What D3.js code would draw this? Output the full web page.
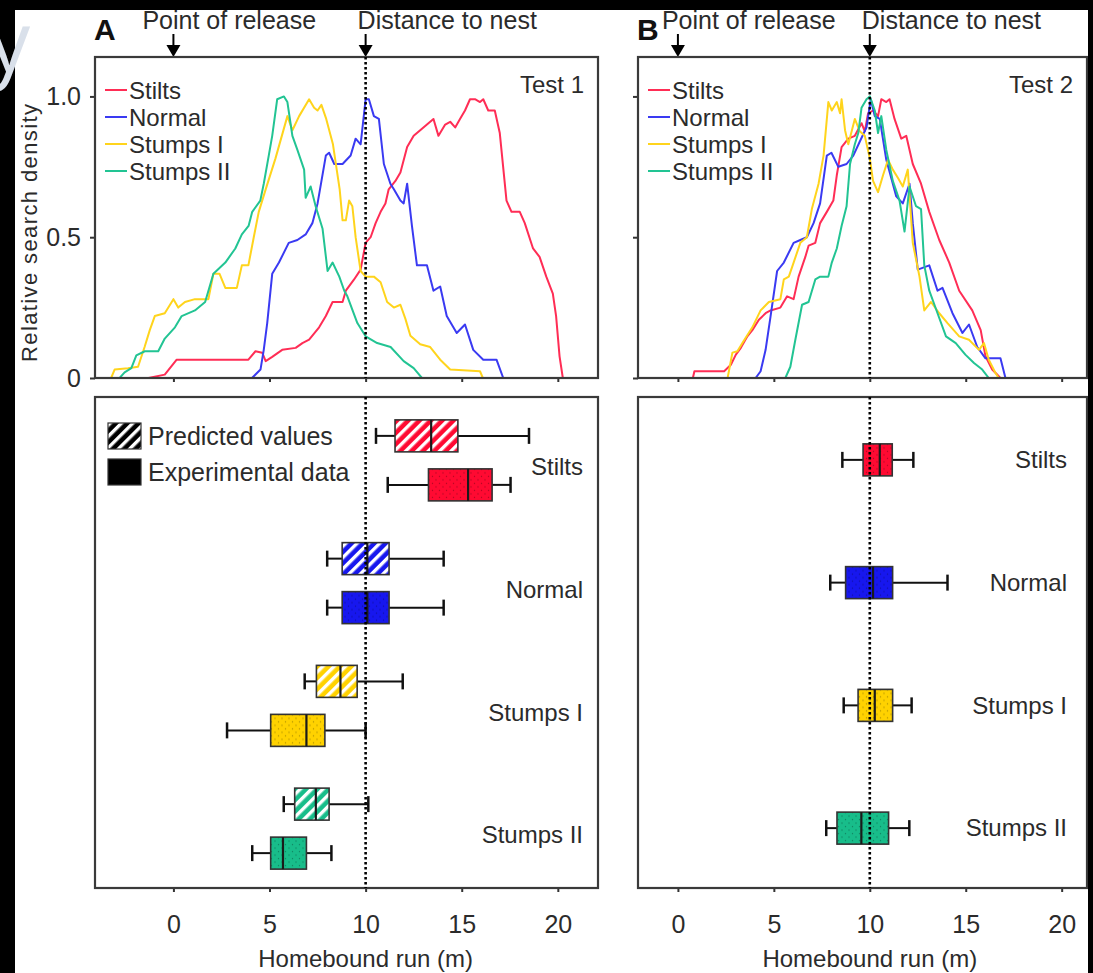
<!DOCTYPE html>
<html>
<head>
<meta charset="utf-8">
<script src="https://cdn.jsdelivr.net/npm/d3@7"></script>
<style>
  body { margin: 0; background: #fff; }
  svg { display: block; font-family: "Liberation Sans", Arial, sans-serif; }
</style>
</head>
<body>
<div id="chart"></div>
<script>
// ---- data ----
const categories = ["Stilts", "Normal", "Stumps I", "Stumps II"];
const xTicks = [0, 5, 10, 15, 20];
const yTicks = [0, 0.5, 1];

// relative search density, [homebound run (m), density]
const t1Stilts = [[-1.3,0],[-0.45,0.012],[0.17,0.065],[3.9,0.065],[4.27,0.095],[4.62,0.09],[4.8,0.06],[5.14,0.075],[5.66,0.1],[6.36,0.107],[6.71,0.124],[7.06,0.136],[7.58,0.18],[7.93,0.22],[8.28,0.27],[8.8,0.27],[8.97,0.31],[9.4,0.35],[9.74,0.385],[10,0.48],[10.26,0.5],[10.52,0.55],[10.78,0.59],[11.03,0.62],[11.2,0.67],[11.55,0.7],[11.81,0.73],[12.16,0.82],[12.5,0.86],[12.84,0.88],[13.19,0.9],[13.53,0.92],[13.79,0.86],[14.14,0.9],[14.4,0.91],[14.66,0.89],[14.91,0.92],[15.17,0.95],[15.43,0.99],[15.69,0.99],[15.95,0.98],[16.12,0.99],[16.38,0.95],[16.72,0.95],[16.98,0.87],[17.33,0.63],[17.59,0.59],[18.02,0.59],[18.28,0.55],[18.71,0.46],[19.05,0.43],[19.4,0.36],[19.74,0.3],[19.91,0.22],[20.09,0.077],[20.26,0]];
const t1Normal = [[4.09,0],[4.53,0.03],[4.7,0.1],[4.88,0.195],[5.14,0.37],[5.49,0.41],[6.0,0.48],[6.45,0.49],[6.88,0.51],[7.23,0.55],[7.5,0.62],[7.93,0.79],[8.1,0.8],[8.37,0.76],[8.8,0.76],[9.22,0.79],[9.48,0.85],[9.74,0.83],[10,0.99],[10.17,0.99],[10.43,0.93],[10.69,0.92],[10.95,0.76],[11.29,0.69],[11.47,0.67],[11.81,0.63],[11.98,0.62],[12.16,0.69],[12.41,0.54],[12.67,0.4],[13.19,0.4],[13.53,0.31],[13.88,0.325],[14.22,0.22],[14.74,0.16],[15.17,0.19],[15.6,0.1],[16.12,0.065],[16.81,0.065],[17.16,0]];
const t1StumpsI = [[-3.24,0],[-3.06,0.03],[-2.36,0.035],[-1.84,0.04],[-1.5,0.11],[-1.23,0.17],[-0.97,0.22],[-0.45,0.23],[0,0.28],[0.25,0.25],[0.6,0.27],[1.12,0.28],[1.82,0.28],[2.08,0.37],[2.4,0.37],[2.7,0.32],[3.3,0.32],[3.56,0.4],[3.9,0.4],[4.18,0.5],[4.44,0.59],[4.8,0.67],[5.31,0.78],[5.93,0.93],[6.19,0.88],[6.54,0.93],[7.06,0.99],[7.32,0.96],[7.5,0.95],[7.7,0.97],[7.95,0.92],[8.3,0.83],[8.65,0.67],[8.8,0.56],[8.97,0.56],[9.14,0.63],[9.31,0.61],[9.48,0.5],[9.74,0.38],[10,0.36],[10.43,0.36],[10.78,0.34],[11.12,0.27],[11.47,0.25],[11.81,0.26],[12.07,0.21],[12.33,0.15],[12.84,0.12],[13.36,0.11],[13.88,0.065],[14.4,0.03],[15.95,0.024],[16.1,0]];
const t1StumpsII = [[-2.8,0],[-2.54,0.02],[-2.19,0.035],[-1.93,0.08],[-1.49,0.095],[-0.79,0.095],[-0.45,0.14],[0.08,0.18],[0.43,0.22],[1.12,0.24],[1.65,0.27],[2.08,0.37],[2.7,0.41],[3.22,0.46],[3.56,0.51],[3.91,0.54],[4.1,0.59],[4.52,0.63],[4.7,0.69],[4.96,0.79],[5.14,0.86],[5.4,0.99],[5.75,1.0],[5.93,0.98],[6.19,0.86],[6.45,0.81],[6.8,0.74],[6.88,0.64],[7.14,0.68],[7.4,0.61],[7.76,0.53],[8.02,0.38],[8.28,0.41],[8.63,0.36],[8.89,0.31],[9.05,0.29],[9.57,0.195],[10,0.148],[10.6,0.124],[11.3,0.11],[11.98,0.06],[12.5,0.035],[12.93,0]];

const t2Stilts = [[0.78,0],[0.86,0.024],[2.41,0.024],[2.76,0.047],[3.02,0.083],[3.28,0.107],[3.62,0.148],[3.88,0.17],[4.22,0.207],[4.57,0.23],[4.83,0.24],[5.34,0.25],[5.69,0.29],[6.03,0.28],[6.29,0.36],[6.64,0.43],[6.81,0.47],[7.16,0.48],[7.41,0.55],[7.76,0.59],[8.1,0.63],[8.28,0.72],[8.53,0.82],[8.88,0.85],[9.22,0.86],[9.57,0.905],[9.74,0.876],[9.91,0.94],[10.17,0.95],[10.43,0.93],[10.6,0.99],[10.86,0.98],[11.03,0.99],[11.29,0.92],[11.64,0.85],[11.9,0.86],[12.24,0.76],[12.67,0.69],[13.1,0.59],[13.62,0.49],[14.14,0.41],[14.66,0.31],[15.34,0.24],[15.78,0.17],[16.03,0.077],[16.38,0.03],[16.81,0]];
const t2Normal = [[4.05,0],[4.31,0.024],[4.57,0.1],[4.83,0.22],[5.17,0.38],[5.52,0.41],[6.03,0.48],[6.38,0.49],[6.72,0.5],[7.07,0.55],[7.41,0.62],[7.76,0.79],[8.0,0.8],[8.36,0.75],[8.79,0.76],[9.14,0.79],[9.48,0.84],[9.83,0.89],[10.05,0.99],[10.26,0.93],[10.52,0.92],[10.86,0.775],[11.38,0.645],[11.72,0.62],[12.07,0.69],[12.24,0.55],[12.5,0.385],[13.1,0.4],[13.53,0.31],[13.79,0.32],[14.31,0.23],[14.83,0.16],[15.17,0.19],[15.6,0.11],[16.03,0.07],[16.81,0.07],[17.07,0]];
const t2StumpsI = [[2.59,0],[2.84,0.09],[3.1,0.095],[3.36,0.124],[3.88,0.18],[4.31,0.24],[4.74,0.27],[5.34,0.28],[5.52,0.35],[5.78,0.36],[6.03,0.41],[6.38,0.48],[6.72,0.5],[6.98,0.6],[7.33,0.69],[7.59,0.79],[7.84,0.98],[8.02,0.95],[8.28,0.98],[8.45,0.94],[8.53,0.99],[8.71,0.88],[8.88,0.83],[9.22,0.92],[9.48,0.876],[9.74,0.86],[10.0,0.78],[10.17,0.7],[10.43,0.66],[10.69,0.72],[10.95,0.775],[11.2,0.74],[11.47,0.71],[11.72,0.68],[11.98,0.74],[12.24,0.48],[12.59,0.36],[12.84,0.24],[13.19,0.27],[13.62,0.23],[14.05,0.195],[14.66,0.148],[15.17,0.136],[15.69,0.1],[15.95,0.124],[16.2,0.065],[16.55,0.018],[16.72,0]];
const t2StumpsII = [[5.6,0],[5.86,0.04],[6.12,0.136],[6.47,0.26],[6.81,0.27],[7.16,0.35],[7.41,0.36],[7.84,0.36],[8.02,0.41],[8.28,0.46],[8.53,0.54],[8.79,0.61],[8.97,0.76],[9.22,0.83],[9.4,0.87],[9.57,0.96],[9.83,0.99],[10,1.0],[10.26,0.95],[10.43,0.87],[10.6,0.93],[10.86,0.81],[11.2,0.7],[11.55,0.63],[11.81,0.52],[12.07,0.68],[12.41,0.61],[12.67,0.6],[12.84,0.4],[13.1,0.31],[13.53,0.23],[13.97,0.148],[14.48,0.124],[14.98,0.083],[15.43,0.053],[15.86,0.03],[16.2,0]];

// box plots: [whisker low, q1, median, q3, whisker high] in m
const t1Predicted = [[10.54,11.53,13.41,14.8,18.5],[8.0,8.78,10.09,11.22,14.06],[6.83,7.44,8.69,9.56,11.93],[5.74,6.31,7.41,8.1,10.14]];
const t1Experimental = [[11.15,13.27,15.33,16.58,17.54],[8.0,8.78,10.09,11.22,14.06],[2.79,5.06,6.92,7.88,10.0],[4.1,5.06,5.7,6.92,8.22]];
const t2Experimental = [[8.57,9.65,10.52,11.17,12.27],[7.94,8.74,10.17,11.19,14.05],[8.64,9.39,10.26,11.19,12.18],[7.73,8.29,9.56,10.98,12.06]];

// ---- drawing ----
const W = 1093, H = 973;
const boxColors = { "Stilts": "#ff0a32", "Normal": "#1717ee", "Stumps I": "#ffd200", "Stumps II": "#18bd8a" };
const lineColors = { "Stilts": "#ff2d55", "Normal": "#3a3af2", "Stumps I": "#ffd41c", "Stumps II": "#22c493" };
const ink = "#2b2b2b";
const fs = 24;

const svg = d3.select("#chart").append("svg").attr("width", W).attr("height", H);
svg.append("rect").attr("width", W).attr("height", H).attr("fill", "#fff");
const defs = svg.append("defs");

function hatch(id, color) {
  const p = defs.append("pattern").attr("id", id)
    .attr("patternUnits", "userSpaceOnUse").attr("width", 8).attr("height", 8)
    .attr("patternTransform", "rotate(45)");
  p.append("rect").attr("width", 8).attr("height", 8).attr("fill", color);
  p.append("rect").attr("width", 3.4).attr("height", 8).attr("fill", "#fff");
}
function stipple(id, color) {
  const p = defs.append("pattern").attr("id", id)
    .attr("patternUnits", "userSpaceOnUse").attr("width", 7).attr("height", 7);
  p.append("rect").attr("width", 7).attr("height", 7).attr("fill", color);
  p.append("circle").attr("cx", 2).attr("cy", 2).attr("r", 0.7).attr("fill", "#000").attr("opacity", 0.3);
  p.append("circle").attr("cx", 5.5).attr("cy", 5.5).attr("r", 0.7).attr("fill", "#000").attr("opacity", 0.3);
}
categories.forEach((c, i) => { hatch("hatch" + i, boxColors[c]); stipple("dots" + i, boxColors[c]); });
hatch("hatchLegend", "#000");

const panels = [
  { letter: "A", test: "Test 1", xDomain: [-4.08, 22.09], xRange: [95, 598],
    density: [t1Stilts, t1Normal, t1StumpsI, t1StumpsII],
    predicted: t1Predicted, experimental: t1Experimental,
    yLabels: true, porShift: -31, catDy: 8, catRight: 583 },
  { letter: "B", test: "Test 2", xDomain: [-2.08, 21.32], xRange: [638, 1087],
    density: [t2Stilts, t2Normal, t2StumpsI, t2StumpsII],
    predicted: null, experimental: t2Experimental,
    yLabels: false, porShift: -16, catDy: 1, catRight: 1067 }
];

const topY = [57, 378];
const botY = [397, 888];

panels.forEach((cfg, pi) => {
  const x = d3.scaleLinear().domain(cfg.xDomain).range(cfg.xRange);
  const y = d3.scaleLinear().domain([0, 1.14]).range([topY[1], topY[0]]);
  const yBand = d3.scaleBand().domain(categories).range(botY);
  const sub = d3.scalePoint().domain(["Predicted", "Experimental"]).range([-22.5, 26.5]);
  const g = svg.append("g");
  const [x0, x1] = cfg.xRange;

  // --- header: letter, arrows ---
  g.append("text").attr("x", x0 - 1).attr("y", 40).attr("font-size", 30).attr("font-weight", "bold")
    .attr("fill", "#111").text(cfg.letter);
  const arrows = [
    { v: 0, label: "Point of release", shift: cfg.porShift },
    { v: 10, label: "Distance to nest", shift: -8 }
  ];
  arrows.forEach(a => {
    const ax = x(a.v);
    g.append("line").attr("x1", ax).attr("x2", ax).attr("y1", 34).attr("y2", 48)
      .attr("stroke", "#000").attr("stroke-width", 2);
    g.append("path").attr("d", `M${ax - 7},45 L${ax + 7},45 L${ax},${topY[0]} Z`).attr("fill", "#000");
    g.append("text").attr("x", ax + a.shift).attr("y", 29).attr("font-size", fs + 1)
      .attr("fill", ink).text(a.label);
  });

  // --- top density panel ---
  const clipId = "clip" + pi;
  defs.append("clipPath").attr("id", clipId).append("rect")
    .attr("x", x0).attr("y", topY[0]).attr("width", x1 - x0).attr("height", topY[1] - topY[0]);
  const line = d3.line().x(d => x(d[0])).y(d => y(d[1]));
  g.append("g").attr("clip-path", `url(#${clipId})`)
    .selectAll("path").data(cfg.density).join("path")
    .attr("d", line).attr("fill", "none")
    .attr("stroke", (d, i) => lineColors[categories[i]]).attr("stroke-width", 2)
    .attr("stroke-linejoin", "round");

  const leg = g.append("g").selectAll("g").data(categories).join("g")
    .attr("transform", (d, i) => `translate(${x0 + 10},${90 + i * 27})`);
  leg.append("line").attr("x1", 0).attr("x2", 22).attr("stroke", d => lineColors[d]).attr("stroke-width", 2);
  leg.append("text").attr("x", 24).attr("dy", "0.36em").attr("font-size", fs).attr("fill", ink).text(d => d);

  g.append("text").attr("x", x1 - 14).attr("y", 93).attr("text-anchor", "end")
    .attr("font-size", fs).attr("fill", ink).text(cfg.test);

  const yAxis = g.append("g").attr("transform", `translate(${x0},0)`)
    .call(d3.axisLeft(y).tickValues(yTicks).tickSize(5).tickPadding(9)
      .tickFormat(d => cfg.yLabels ? (d === 0 ? "0" : d3.format(".1f")(d)) : ""));
  const xAxisTop = g.append("g").attr("transform", `translate(0,${topY[1]})`)
    .call(d3.axisBottom(x).tickValues(xTicks).tickSize(4).tickFormat(""));

  g.append("rect").attr("x", x0).attr("y", topY[0]).attr("width", x1 - x0).attr("height", topY[1] - topY[0])
    .attr("fill", "none").attr("stroke", "#3a3a3a").attr("stroke-width", 2.2);

  // --- bottom box-plot panel ---
  const rows = [];
  categories.forEach((c, i) => {
    if (cfg.predicted) rows.push({ cat: c, i, kind: "Predicted", s: cfg.predicted[i] });
    rows.push({ cat: c, i, kind: "Experimental", s: cfg.experimental[i] });
  });
  const rowY = r => yBand(r.cat) + yBand.bandwidth() / 2 + (cfg.predicted ? sub(r.kind) : 1.5);
  const boxH = 32, capH = 16;

  const bx = g.append("g").selectAll("g").data(rows).join("g")
    .attr("transform", r => `translate(0,${rowY(r)})`);
  bx.append("line").attr("x1", r => x(r.s[0])).attr("x2", r => x(r.s[1]))
    .attr("stroke", "#111").attr("stroke-width", 2);
  bx.append("line").attr("x1", r => x(r.s[3])).attr("x2", r => x(r.s[4]))
    .attr("stroke", "#111").attr("stroke-width", 2);
  bx.selectAll(".cap").data(r => [r.s[0], r.s[4]]).join("line").attr("class", "cap")
    .attr("x1", v => x(v)).attr("x2", v => x(v)).attr("y1", -capH / 2).attr("y2", capH / 2)
    .attr("stroke", "#111").attr("stroke-width", 2.5);
  bx.append("rect").attr("x", r => x(r.s[1])).attr("width", r => x(r.s[3]) - x(r.s[1]))
    .attr("y", -boxH / 2).attr("height", boxH)
    .attr("fill", r => `url(#${r.kind === "Predicted" ? "hatch" : "dots"}${r.i})`)
    .attr("stroke", "#333").attr("stroke-width", 1.6);
  bx.append("line").attr("x1", r => x(r.s[2])).attr("x2", r => x(r.s[2]))
    .attr("y1", -boxH / 2).attr("y2", boxH / 2).attr("stroke", "#1a1a1a").attr("stroke-width", 2.2);

  g.append("g").selectAll("text").data(categories).join("text")
    .attr("x", cfg.catRight).attr("y", c => yBand(c) + yBand.bandwidth() / 2 + cfg.catDy)
    .attr("dy", "0.36em").attr("text-anchor", "end").attr("font-size", fs).attr("fill", ink).text(c => c);

  if (cfg.predicted) {
    const kinds = [{ label: "Predicted values", fill: "url(#hatchLegend)", y: 423 },
                   { label: "Experimental data", fill: "#000", y: 459 }];
    const kg = g.append("g").selectAll("g").data(kinds).join("g")
      .attr("transform", k => `translate(108,${k.y})`);
    kg.append("rect").attr("width", 33).attr("height", 26).attr("fill", k => k.fill)
      .attr("stroke", "#333").attr("stroke-width", 1.2);
    kg.append("text").attr("x", 40).attr("y", 13).attr("dy", "0.36em")
      .attr("font-size", fs + 1).attr("fill", ink).text(k => k.label);
  }

  const xAxis = g.append("g").attr("transform", `translate(0,${botY[1]})`)
    .call(d3.axisBottom(x).tickValues(xTicks).tickSize(4).tickPadding(23));
  g.append("rect").attr("x", x0).attr("y", botY[0]).attr("width", x1 - x0).attr("height", botY[1] - botY[0])
    .attr("fill", "none").attr("stroke", "#3a3a3a").attr("stroke-width", 2.2);

  [yAxis, xAxisTop, xAxis].forEach(a => {
    a.select(".domain").remove();
    a.selectAll(".tick line").attr("stroke", "#333").attr("stroke-width", 2);
    a.selectAll(".tick text").attr("font-size", fs + 1).attr("fill", ink)
      .attr("font-family", "'Liberation Sans', Arial, sans-serif");
  });

  g.append("text").attr("x", x(10)).attr("y", 967).attr("text-anchor", "middle")
    .attr("font-size", fs).attr("fill", ink).text("Homebound run (m)");

  // dotted nest-distance line, over everything
  [topY, botY].forEach(r => {
    g.append("line").attr("x1", x(10)).attr("x2", x(10)).attr("y1", r[0]).attr("y2", r[1])
      .attr("stroke", "#000").attr("stroke-width", 2.6).attr("stroke-dasharray", "2.5,2.5");
  });
});

svg.append("text").attr("transform", "translate(37,233) rotate(-90)").attr("text-anchor", "middle")
  .attr("font-size", 22).attr("textLength", 258).attr("lengthAdjust", "spacing")
  .attr("fill", ink).text("Relative search density");

// screenshot surround: black slide background and the stray glyph
svg.append("rect").attr("x", 0).attr("y", 0).attr("width", W).attr("height", 10).attr("fill", "#000");
svg.append("rect").attr("x", 0).attr("y", 0).attr("width", 15).attr("height", H).attr("fill", "#000");
svg.append("rect").attr("x", 1088).attr("y", 0).attr("width", W - 1088).attr("height", H).attr("fill", "#000");
svg.append("text").attr("x", -12).attr("y", 72).attr("font-size", 84).attr("font-family", "'Open Sans', sans-serif")
  .attr("fill", "#d9e0ea").text("y");
</script>
</body>
</html>
